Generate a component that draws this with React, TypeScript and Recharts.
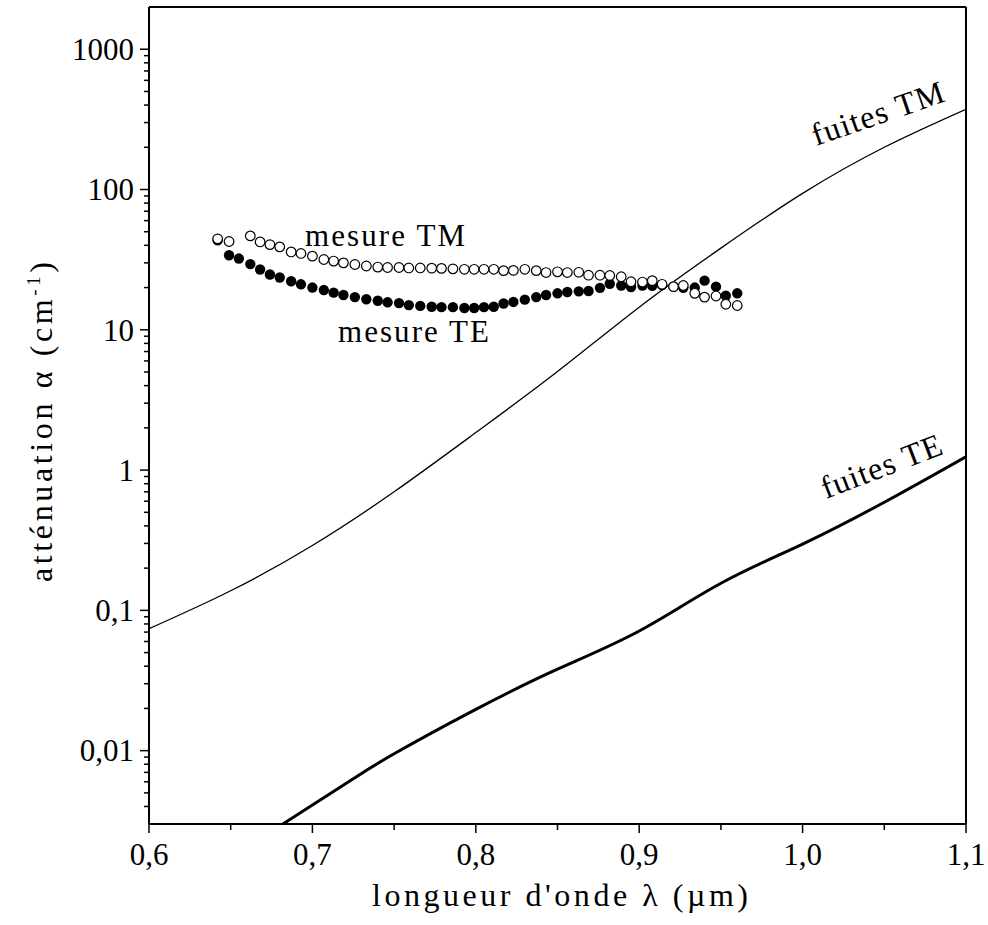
import React from 'react';
import { ComposedChart, Line, Scatter, XAxis, YAxis, ReferenceLine } from 'recharts';

const FONT = '"Liberation Serif", "Times New Roman", serif';

// calculated leakage losses (fuites)
const leakTmX = [0.6, 0.65, 0.7, 0.75, 0.8, 0.85, 0.9, 0.95, 1.0, 1.05, 1.1];
const leakTmY = [0.074, 0.138, 0.29, 0.7, 1.85, 5.04, 14.5, 38.2, 93.8, 200, 373];
const leakTeX = [0.68, 0.7, 0.725, 0.75, 0.8, 0.85, 0.9, 0.95, 1.0, 1.05, 1.1];
const leakTeY = [0.0029, 0.0041, 0.0063, 0.0095, 0.0197, 0.0381, 0.0713, 0.156, 0.297, 0.59, 1.245];

// measured attenuation (mesure)
const measX = [
  0.642, 0.649, 0.655, 0.662, 0.668, 0.674, 0.68, 0.687, 0.693, 0.7,
  0.707, 0.713, 0.719, 0.726, 0.733, 0.74, 0.746, 0.753, 0.759, 0.766,
  0.773, 0.779, 0.786, 0.793, 0.799, 0.805, 0.811, 0.817, 0.823, 0.83,
  0.837, 0.843, 0.85, 0.856, 0.863, 0.869, 0.876, 0.882, 0.889, 0.895,
  0.902, 0.908, 0.914, 0.921, 0.927, 0.934, 0.94, 0.947, 0.953, 0.96,
];
const measTe = [
  43.5, 34.0, 32.2, 29.4, 26.9, 24.8, 23.6, 22.2, 21.1, 20.0,
  19.2, 18.4, 17.7, 17.1, 16.5, 16.1, 15.7, 15.5, 15.0, 14.8,
  14.6, 14.5, 14.5, 14.3, 14.3, 14.5, 14.6, 15.4, 15.8, 16.4,
  17.1, 17.7, 18.2, 18.6, 18.8, 18.9, 19.9, 21.3, 20.7, 20.2,
  20.7, 20.6, 20.8, 20.3, 19.9, 20.0, 22.4, 20.3, 17.5, 18.2,
];
const measTm = [
  44.5, 42.6, null, 46.7, 42.3, 40.5, 39.0, 35.9, 35.0, 33.5,
  31.7, 30.9, 30.0, 29.2, 28.5, 28.0, 27.8, 27.8, 27.6, 27.6,
  27.5, 27.4, 27.2, 27.0, 27.0, 27.0, 27.0, 26.4, 26.5, 27.0,
  26.4, 25.6, 25.9, 25.6, 25.7, 24.5, 24.5, 24.4, 23.9, 22.0,
  21.9, 22.4, 21.1, 20.3, 20.7, 18.2, 17.1, 17.4, 15.2, 14.9,
];

const xTicks = [0.6, 0.65, 0.7, 0.75, 0.8, 0.85, 0.9, 0.95, 1.0, 1.05, 1.1];
const xMajor = [0.6, 0.7, 0.8, 0.9, 1.0, 1.1];
const xLabels = ['0,6', '0,7', '0,8', '0,9', '1,0', '1,1'];
const yMajor = [0.01, 0.1, 1, 10, 100, 1000];
const yLabels = ['0,01', '0,1', '1', '10', '100', '1000'];
const decades = [0.001, 0.01, 0.1, 1, 10, 100, 1000];
const Y_MIN = 0.003;
const Y_MAX = 2000;

const yTicks: number[] = [];
decades.forEach((d) => {
  for (let m = 1; m <= 9; m++) {
    const v = Number((m * d).toPrecision(3));
    if (v > Y_MIN && v < Y_MAX) yTicks.push(v);
  }
});

const zip = (xs: number[], ys: (number | null)[]) =>
  xs.map((x, i) => ({ x, y: ys[i] })).filter((p) => p.y !== null);

const leakTm = zip(leakTmX, leakTmY);
const leakTe = zip(leakTeX, leakTeY);
const measTeData = zip(measX, measTe);
const measTmData = zip(measX, measTm);

const YTick = (props: any) => {
  const { x, y, payload } = props;
  const idx = yMajor.indexOf(payload.value);
  const major = idx >= 0;
  return (
    <g>
      <line x1={x} x2={x - (major ? 9 : 5)} y1={y} y2={y} stroke="#000" strokeWidth={1.5} />
      {major && (
        <text x={x - 15} y={y} dy="0.35em" textAnchor="end" fontFamily={FONT} fontSize={31} fill="#000">
          {yLabels[idx]}
        </text>
      )}
    </g>
  );
};

const XTick = (props: any) => {
  const { x, y, payload } = props;
  const idx = xMajor.indexOf(payload.value);
  const major = idx >= 0;
  return (
    <g>
      <line x1={x} x2={x} y1={y} y2={y + (major ? 9 : 6)} stroke="#000" strokeWidth={1.5} />
      {major && (
        <text x={x} y={y + 41} textAnchor="middle" fontFamily={FONT} fontSize={31} fill="#000">
          {xLabels[idx]}
        </text>
      )}
    </g>
  );
};

const OpenDot = (props: any) => (
  <circle cx={props.cx} cy={props.cy} r={4.8} fill="#fff" stroke="#000" strokeWidth={1.2} />
);
const FilledDot = (props: any) => <circle cx={props.cx} cy={props.cy} r={5.2} fill="#000" />;

export default function App() {
  return (
    <div style={{ position: 'absolute', left: 0, top: 0, width: 988, height: 925, background: '#fff' }}>
      <ComposedChart width={988} height={925} margin={{ top: 7, right: 22, left: 0, bottom: 0 }}>
        <XAxis
          type="number"
          dataKey="x"
          domain={[0.6, 1.1]}
          ticks={xTicks}
          interval={0}
          height={101}
          tickSize={0}
          tickMargin={0}
          tickLine={false}
          tick={<XTick />}
          axisLine={{ stroke: '#000', strokeWidth: 2 }}
          allowDataOverflow
        />
        <YAxis
          type="number"
          scale="log"
          domain={[Y_MIN, Y_MAX]}
          ticks={yTicks}
          interval={0}
          width={149}
          tickSize={0}
          tickMargin={0}
          tickLine={false}
          tick={<YTick />}
          axisLine={{ stroke: '#000', strokeWidth: 2 }}
          allowDataOverflow
        />
        <ReferenceLine y={Y_MAX} stroke="#000" strokeWidth={2} />
        <ReferenceLine x={1.1} stroke="#000" strokeWidth={2} />
        <Line data={leakTm} dataKey="y" type="natural" stroke="#000" strokeWidth={1.3} dot={false} isAnimationActive={false} />
        <Line data={leakTe} dataKey="y" type="natural" stroke="#000" strokeWidth={3} dot={false} isAnimationActive={false} />
        <Scatter data={measTeData} dataKey="y" shape={<FilledDot />} isAnimationActive={false} />
        <Scatter data={measTmData} dataKey="y" shape={<OpenDot />} isAnimationActive={false} />
      </ComposedChart>
      <svg width={988} height={925} style={{ position: 'absolute', left: 0, top: 0, pointerEvents: 'none' }}>
        <g fontFamily={FONT} fill="#000">
          <text x={305} y={246} fontSize={31} textLength={160} lengthAdjust="spacing">mesure TM</text>
          <text x={338} y={342} fontSize={31} textLength={151} lengthAdjust="spacing">mesure TE</text>
          <text x={0} y={0} fontSize={32} textLength={138} lengthAdjust="spacing" transform="translate(816,146) rotate(-19)">fuites TM</text>
          <text x={0} y={0} fontSize={32} textLength={127} lengthAdjust="spacing" transform="translate(826,499) rotate(-21)">fuites TE</text>
          <text x={372} y={906} fontSize={32} textLength={376} lengthAdjust="spacing">longueur d'onde λ (µm)</text>
          <text x={0} y={0} fontSize={32} textLength={320} lengthAdjust="spacing" transform="translate(52,582) rotate(-90)">
            atténuation α (cm<tspan dy={-12} fontSize={19}>-1</tspan><tspan dy={12}>)</tspan>
          </text>
        </g>
      </svg>
    </div>
  );
}
